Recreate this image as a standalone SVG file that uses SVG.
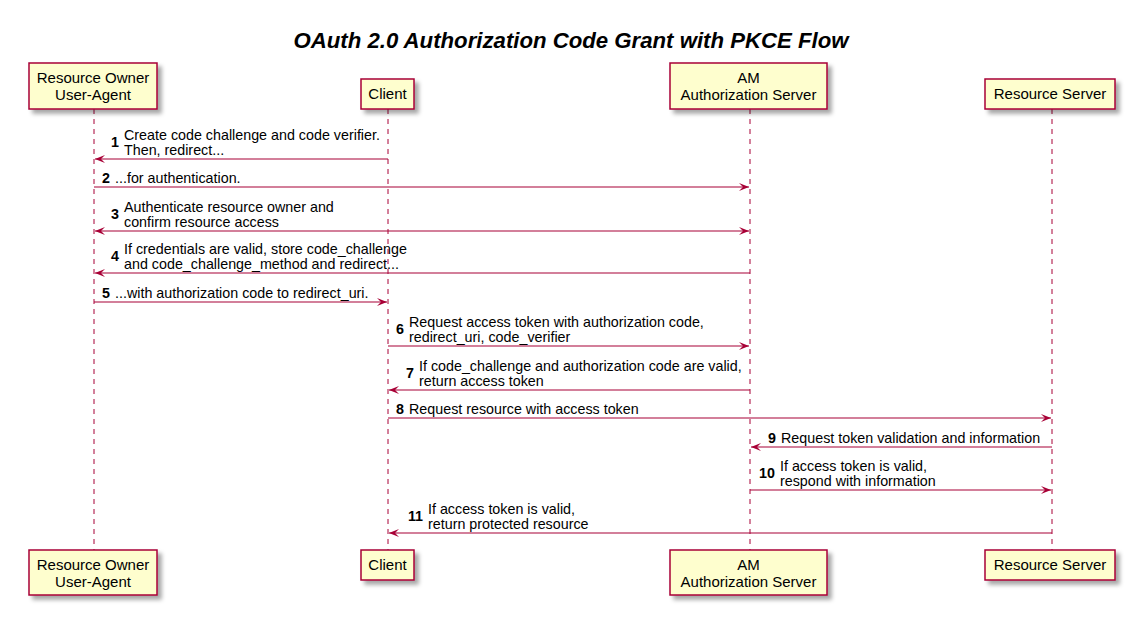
<svg xmlns="http://www.w3.org/2000/svg" width="1136" height="618" viewBox="0 0 1136 618">
<style>
.title{font-family:"Liberation Sans",Arial,sans-serif;font-size:22.2px;font-weight:bold;font-style:italic;fill:#000}
.box{fill:#FEFECE;stroke:#A80036;stroke-width:1.5}
.ptxt{font-family:"Liberation Sans",Arial,sans-serif;font-size:15px;fill:#000;text-anchor:middle}
.life{stroke:#A80036;stroke-width:1;stroke-dasharray:5,5;fill:none}
.msg{stroke:#A80036;stroke-width:1.1;fill:none}
.mtxt{font-family:"Liberation Sans",Arial,sans-serif;font-size:14.3px;fill:#000}
.num{font-family:"Liberation Sans",Arial,sans-serif;font-size:14.3px;font-weight:bold;fill:#000;text-anchor:end}
</style>
<defs>
<filter id="sh" x="-20%" y="-20%" width="150%" height="160%">
<feDropShadow dx="4" dy="4" stdDeviation="2" flood-color="#000" flood-opacity="0.35"/>
</filter>
<marker id="ah" markerUnits="userSpaceOnUse" markerWidth="12" markerHeight="10" refX="10" refY="4" orient="auto-start-reverse">
<path d="M0,0 L10,4 L0,8 L4,4 Z" fill="#A80036"/>
</marker>
</defs>
<rect width="1136" height="618" fill="#fff"/>
<text class="title" x="571" y="48" text-anchor="middle">OAuth 2.0 Authorization Code Grant with PKCE Flow</text>

<g id="lifelines">
<line class="life" x1="94" y1="109" x2="94" y2="550"/>
<line class="life" x1="388" y1="109" x2="388" y2="550"/>
<line class="life" x1="750" y1="109" x2="750" y2="550"/>
<line class="life" x1="1052" y1="109" x2="1052" y2="550"/>
</g>

<g id="ro-top"><rect class="box" filter="url(#sh)" x="29" y="63" width="128" height="46"/><text class="ptxt" x="93" y="83">Resource Owner</text><text class="ptxt" x="93" y="100">User-Agent</text></g>
<g id="client-top"><rect class="box" filter="url(#sh)" x="361" y="79" width="53" height="30"/><text class="ptxt" x="387.5" y="99">Client</text></g>
<g id="am-top"><rect class="box" filter="url(#sh)" x="670" y="63" width="157" height="46"/><text class="ptxt" x="748.5" y="83">AM</text><text class="ptxt" x="748.5" y="100">Authorization Server</text></g>
<g id="rs-top"><rect class="box" filter="url(#sh)" x="985" y="79" width="130" height="30"/><text class="ptxt" x="1050" y="99">Resource Server</text></g>

<g id="ro-bottom"><rect class="box" filter="url(#sh)" x="29" y="550" width="128" height="45"/><text class="ptxt" x="93" y="570">Resource Owner</text><text class="ptxt" x="93" y="587">User-Agent</text></g>
<g id="client-bottom"><rect class="box" filter="url(#sh)" x="361" y="550" width="53" height="30"/><text class="ptxt" x="387.5" y="570">Client</text></g>
<g id="am-bottom"><rect class="box" filter="url(#sh)" x="670" y="550" width="157" height="45"/><text class="ptxt" x="748.5" y="570">AM</text><text class="ptxt" x="748.5" y="587">Authorization Server</text></g>
<g id="rs-bottom"><rect class="box" filter="url(#sh)" x="985" y="550" width="130" height="30"/><text class="ptxt" x="1050" y="570">Resource Server</text></g>

<g id="connectors">
<line class="msg" x1="388" y1="159" x2="95" y2="159" marker-end="url(#ah)"/>
<line class="msg" x1="94" y1="187" x2="749" y2="187" marker-end="url(#ah)"/>
<line class="msg" x1="95" y1="231" x2="749" y2="231" marker-start="url(#ah)" marker-end="url(#ah)"/>
<line class="msg" x1="750" y1="273" x2="95" y2="273" marker-end="url(#ah)"/>
<line class="msg" x1="94" y1="302" x2="387" y2="302" marker-end="url(#ah)"/>
<line class="msg" x1="388" y1="346" x2="749" y2="346" marker-end="url(#ah)"/>
<line class="msg" x1="750" y1="390" x2="389" y2="390" marker-end="url(#ah)"/>
<line class="msg" x1="388" y1="418" x2="1051" y2="418" marker-end="url(#ah)"/>
<line class="msg" x1="1052" y1="447" x2="751" y2="447" marker-end="url(#ah)"/>
<line class="msg" x1="750" y1="490" x2="1051" y2="490" marker-end="url(#ah)"/>
<line class="msg" x1="1052" y1="533" x2="389" y2="533" marker-end="url(#ah)"/>
</g>

<g id="labels">
<text class="num" x="119" y="147">1</text>
<text class="mtxt" x="124" y="140">Create code challenge and code verifier.</text>
<text class="mtxt" x="124" y="155">Then, redirect...</text>

<text class="num" x="110" y="183">2</text>
<text class="mtxt" x="115" y="183">...for authentication.</text>

<text class="num" x="119" y="219">3</text>
<text class="mtxt" x="124" y="212">Authenticate resource owner and</text>
<text class="mtxt" x="124" y="227">confirm resource access</text>

<text class="num" x="119" y="261">4</text>
<text class="mtxt" x="124" y="254">If credentials are valid, store code_challenge</text>
<text class="mtxt" x="124" y="269">and code_challenge_method and redirect...</text>

<text class="num" x="110" y="298">5</text>
<text class="mtxt" x="115" y="298">...with authorization code to redirect_uri.</text>

<text class="num" x="404" y="334">6</text>
<text class="mtxt" x="409" y="327">Request access token with authorization code,</text>
<text class="mtxt" x="409" y="342">redirect_uri, code_verifier</text>

<text class="num" x="414" y="378">7</text>
<text class="mtxt" x="419" y="371">If code_challenge and authorization code are valid,</text>
<text class="mtxt" x="419" y="386">return access token</text>

<text class="num" x="404" y="414">8</text>
<text class="mtxt" x="409" y="414">Request resource with access token</text>

<text class="num" x="776" y="443">9</text>
<text class="mtxt" x="781" y="443">Request token validation and information</text>

<text class="num" x="775" y="478">10</text>
<text class="mtxt" x="780" y="471">If access token is valid,</text>
<text class="mtxt" x="780" y="486">respond with information</text>

<text class="num" x="423" y="521">11</text>
<text class="mtxt" x="428" y="514">If access token is valid,</text>
<text class="mtxt" x="428" y="529">return protected resource</text>
</g>
</svg>
